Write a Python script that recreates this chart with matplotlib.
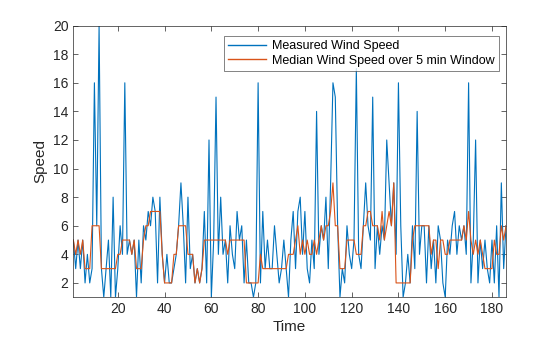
import numpy as np
import matplotlib.pyplot as plt

plt.rcParams['font.family'] = ['Liberation Sans', 'DejaVu Sans']

# measured wind speed, one value per time step (1..186)
measured = [
    5, 3, 5, 3, 5, 2, 4, 2, 3, 16,
    6, 20, 3, 1, 3, 5, 1, 8, 1, 3,
    6, 4, 16, 4, 5, 4, 5, 1, 5, 2,
    6, 5, 7, 6, 8, 7, 2, 8, 4, 2,
    4, 2, 2, 3, 4, 6, 9, 6, 2, 8,
    3, 4, 2, 3, 2, 3, 7, 2, 12, 1,
    5, 15, 4, 8, 4, 5, 2, 6, 4, 3,
    7, 5, 6, 2, 5, 2, 2, 1, 2, 16,
    2, 7, 3, 5, 3, 3, 6, 4, 2, 3,
    5, 3, 1, 5, 7, 3, 7, 8, 4, 7,
    3, 2, 5, 3, 14, 4, 6, 5, 8, 3,
    9, 16, 15, 6, 1, 3, 2, 6, 4, 3,
    5, 17, 4, 3, 6, 9, 6, 5, 15, 3,
    6, 4, 6, 5, 12, 9, 6, 9, 4, 16,
    6, 1, 2, 4, 2, 6, 3, 14, 4, 6,
    6, 2, 6, 3, 5, 2, 6, 5, 2, 1,
    5, 4, 6, 7, 4, 6, 5, 6, 4, 16,
    2, 5, 12, 2, 5, 3, 5, 3, 2, 5,
    2, 6, 1, 9, 3, 6,
]

# median over 5 min window
median5 = [
    5, 4, 5, 4, 5, 3, 3, 3, 6, 6,
    6, 6, 3, 3, 3, 3, 3, 3, 3, 4,
    4, 5, 5, 5, 5, 4, 5, 3, 3, 3,
    5, 6, 6, 7, 7, 7, 7, 7, 4, 2,
    2, 2, 2, 4, 4, 6, 6, 6, 6, 4,
    4, 4, 2, 3, 2, 3, 5, 5, 5, 5,
    5, 5, 5, 5, 5, 5, 4, 5, 5, 5,
    5, 5, 5, 5, 2, 2, 2, 2, 2, 2,
    4, 3, 3, 3, 3, 3, 3, 3, 3, 3,
    3, 3, 4, 4, 4, 5, 6, 4, 5, 4,
    5, 4, 4, 5, 4, 5, 6, 5, 6, 6,
    7, 9, 6, 6, 3, 3, 3, 5, 5, 5,
    5, 4, 4, 4, 6, 6, 7, 7, 6, 6,
    6, 5, 7, 5, 6, 7, 6, 9, 2, 2,
    2, 2, 2, 2, 2, 5, 6, 6, 6, 6,
    6, 6, 6, 4, 5, 5, 3, 5, 5, 4,
    4, 5, 5, 5, 5, 5, 5, 6, 5, 7,
    5, 4, 5, 4, 5, 4, 3, 3, 3, 3,
    5, 4, 4, 6, 5, 6,
]

t = np.arange(1, len(measured) + 1)

fig = plt.figure(figsize=(5.6, 3.37), dpi=100)
ax = fig.add_axes([0.131, 0.118, 0.7726, 0.806])

ax.plot(t, measured, color='#0072BD', linewidth=0.8, label='Measured Wind Speed')
ax.plot(t, median5, color='#D95319', linewidth=0.8,
        label='Median Wind Speed over 5 min Window')

ax.set_xlim(1, len(measured))
ax.set_ylim(1, 20)
ax.set_xticks(range(20, 181, 20))
ax.set_yticks(range(2, 21, 2))

ax.tick_params(direction='in', length=3.5, width=0.5, colors='#262626',
               labelsize=10, top=True, right=True)
for s in ax.spines.values():
    s.set_linewidth(0.5)
    s.set_color('#262626')

ax.set_xlabel('Time', fontsize=11, color='#262626', labelpad=3)
ax.set_ylabel('Speed', fontsize=11, color='#262626', labelpad=4)

leg = ax.legend(loc='upper right', bbox_to_anchor=(0.984, 0.963),
                borderaxespad=0, fontsize=9, fancybox=False,
                handlelength=3.0, handletextpad=0.5, borderpad=0.35,
                labelspacing=0.2)
leg.get_frame().set_edgecolor('#262626')
leg.get_frame().set_linewidth(0.5)
for ln in leg.get_lines():
    ln.set_linewidth(1.0)

fig.savefig('out.png', dpi=100)
